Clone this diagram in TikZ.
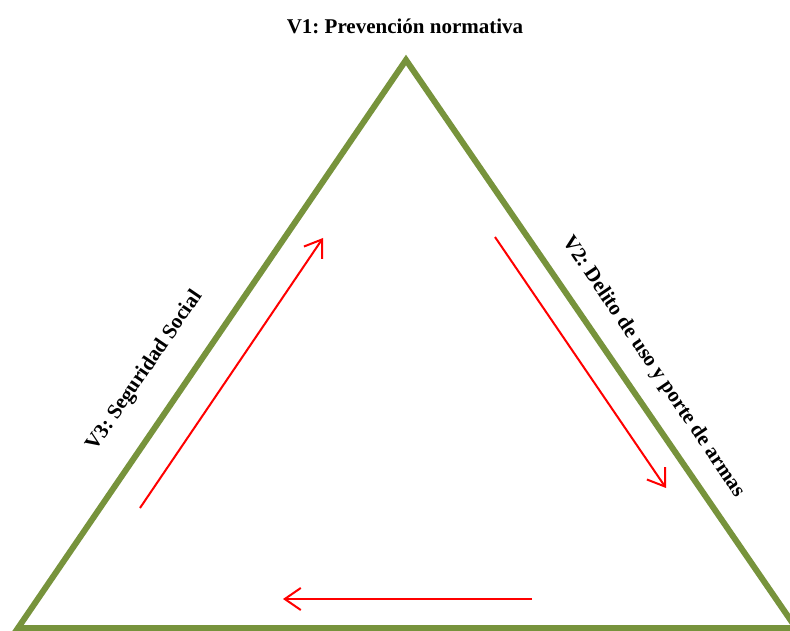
\documentclass[tikz,border=0pt]{standalone}
\usepackage{fontspec}
\setmainfont{Liberation Serif}
\usetikzlibrary{arrows.meta}
\definecolor{olivegreen}{RGB}{119,147,60}
\frenchspacing

\begin{document}
\begin{tikzpicture}[x=1pt,y=1pt,
    side/.style={line width=6pt, draw=olivegreen},
    flow/.style={line width=2pt, red, -{Straight Barb[length=16pt,width=22pt]}},
    vartext/.style={font=\bfseries\fontsize{21}{25}\selectfont, inner sep=0pt}]

    % Fix the size of the page
    \useasboundingbox (0,0) rectangle (790,630);

    % Corners of the triangle
    \coordinate (T) at (406,570);
    % bottom left corner
    \coordinate (L) at (18,2);
    % bottom right corner, slightly outside the page
    \coordinate (R) at (796,2);

    % Draw the triangle
    \draw[side] (L) -- (T) -- (R) -- cycle;

    % End points of the red arrows inside the triangle
    \coordinate (up1) at (140,122);
    \coordinate (up2) at (323,392);
    \coordinate (dn1) at (495,393);
    \coordinate (dn2) at (666,142);
    \coordinate (bk1) at (532,31);
    \coordinate (bk2) at (283,31);

    % Red arrows going round the triangle
    \draw[flow] (up1) -- (up2); % along the left side
    \draw[flow] (dn1) -- (dn2); % along the right side
    \draw[flow] (bk1) -- (bk2); % along the bottom

    % Names of the three sides
    \node[vartext] (v1) at (405,604) {V1: Prevención normativa};
    \node[vartext, rotate=-55.9] (v2) at (653,263) {V2: Delito de uso y porte de armas};
    \node[vartext, rotate=55.7] (v3) at (145,259) {V3: Seguridad Social};

\end{tikzpicture}
\end{document}
